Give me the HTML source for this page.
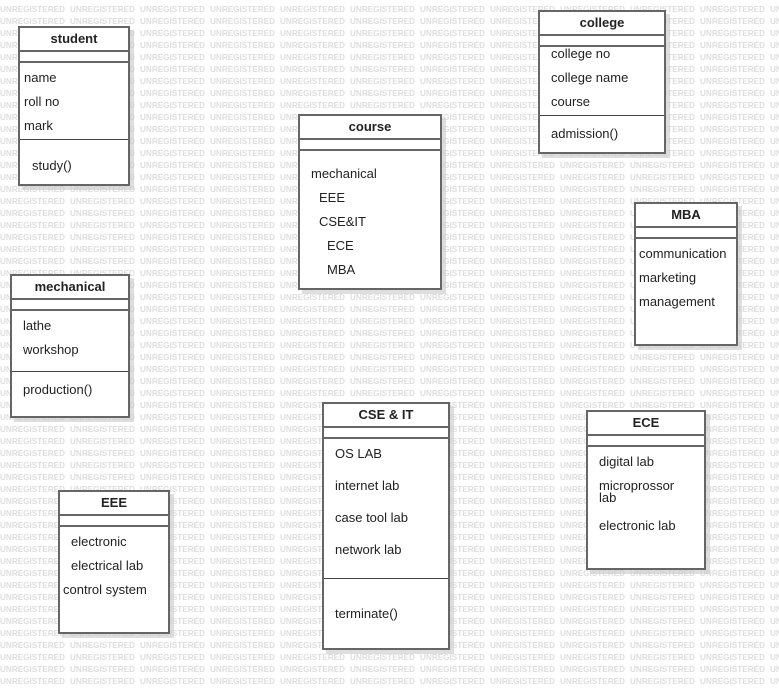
<!DOCTYPE html>
<html><head><meta charset="utf-8"><style>
body{margin:0;width:779px;height:690px;position:relative;overflow:hidden;background:#fff;font-family:"Liberation Sans",sans-serif;}
svg.bg{position:absolute;left:0;top:0}
.b{position:absolute;background:#fff;border:2px solid #666;box-sizing:border-box;box-shadow:4px 4px 0 rgba(200,200,200,0.6);color:#222;font-size:13px}
.h{height:24px;border-bottom:2px solid #666;box-sizing:border-box;text-align:center;font-weight:bold;line-height:22px}
.e{height:11px;border-bottom:2px solid #666;box-sizing:border-box}
.t{position:absolute;white-space:nowrap;line-height:14px}
.l{position:absolute;left:0;right:0;border-top:1.5px solid #444}
</style></head><body>
<svg class="bg" width="779" height="690"><defs><pattern id="p" width="70" height="12" patternUnits="userSpaceOnUse" x="0" y="2"><text x="0" y="10" font-family="Liberation Sans" font-size="8.5" font-weight="bold" fill="#dedede" textLength="65" lengthAdjust="spacingAndGlyphs">UNREGISTERED</text></pattern></defs><rect width="779" height="690" fill="url(#p)"/></svg>

<div class="b" style="left:18px;top:26px;width:112px;height:160px"><div class="h">student</div><div class="e"></div>
<div class="t" style="left:4px;top:43px">name</div><div class="t" style="left:4px;top:67px">roll no</div><div class="t" style="left:4px;top:91px">mark</div>
<div class="l" style="top:111px"></div><div class="t" style="left:12px;top:131px">study()</div></div>

<div class="b" style="left:538px;top:10px;width:128px;height:144px"><div class="h">college</div><div class="e"></div>
<div class="t" style="left:11px;top:35px">college no</div><div class="t" style="left:11px;top:59px">college name</div><div class="t" style="left:11px;top:83px">course</div>
<div class="l" style="top:103px"></div><div class="t" style="left:11px;top:115px">admission()</div></div>

<div class="b" style="left:298px;top:114px;width:144px;height:176px"><div class="h">course</div><div class="e"></div>
<div class="t" style="left:11px;top:51px">mechanical</div><div class="t" style="left:19px;top:75px">EEE</div><div class="t" style="left:19px;top:99px">CSE&amp;IT</div><div class="t" style="left:27px;top:123px">ECE</div><div class="t" style="left:27px;top:147px">MBA</div></div>

<div class="b" style="left:634px;top:202px;width:104px;height:144px"><div class="h">MBA</div><div class="e"></div>
<div class="t" style="left:3px;top:43px">communication</div><div class="t" style="left:3px;top:67px">marketing</div><div class="t" style="left:3px;top:91px">management</div></div>

<div class="b" style="left:10px;top:274px;width:120px;height:144px"><div class="h">mechanical</div><div class="e"></div>
<div class="t" style="left:11px;top:43px">lathe</div><div class="t" style="left:11px;top:67px">workshop</div>
<div class="l" style="top:95px"></div><div class="t" style="left:11px;top:107px">production()</div></div>

<div class="b" style="left:322px;top:402px;width:128px;height:248px"><div class="h">CSE &amp; IT</div><div class="e"></div>
<div class="t" style="left:11px;top:43px">OS LAB</div><div class="t" style="left:11px;top:75px">internet lab</div><div class="t" style="left:11px;top:107px">case tool lab</div><div class="t" style="left:11px;top:139px">network lab</div>
<div class="l" style="top:174px"></div><div class="t" style="left:11px;top:203px">terminate()</div></div>

<div class="b" style="left:586px;top:410px;width:120px;height:160px"><div class="h">ECE</div><div class="e"></div>
<div class="t" style="left:11px;top:68px;line-height:12px;white-space:normal;width:90px">microprossor lab</div><div class="t" style="left:11px;top:43px">digital lab</div><div class="t" style="left:11px;top:107px">electronic lab</div></div>

<div class="b" style="left:58px;top:490px;width:112px;height:144px"><div class="h">EEE</div><div class="e"></div>
<div class="t" style="left:11px;top:43px">electronic</div><div class="t" style="left:11px;top:67px">electrical lab</div><div class="t" style="left:3px;top:91px">control system</div></div>
</body></html>
